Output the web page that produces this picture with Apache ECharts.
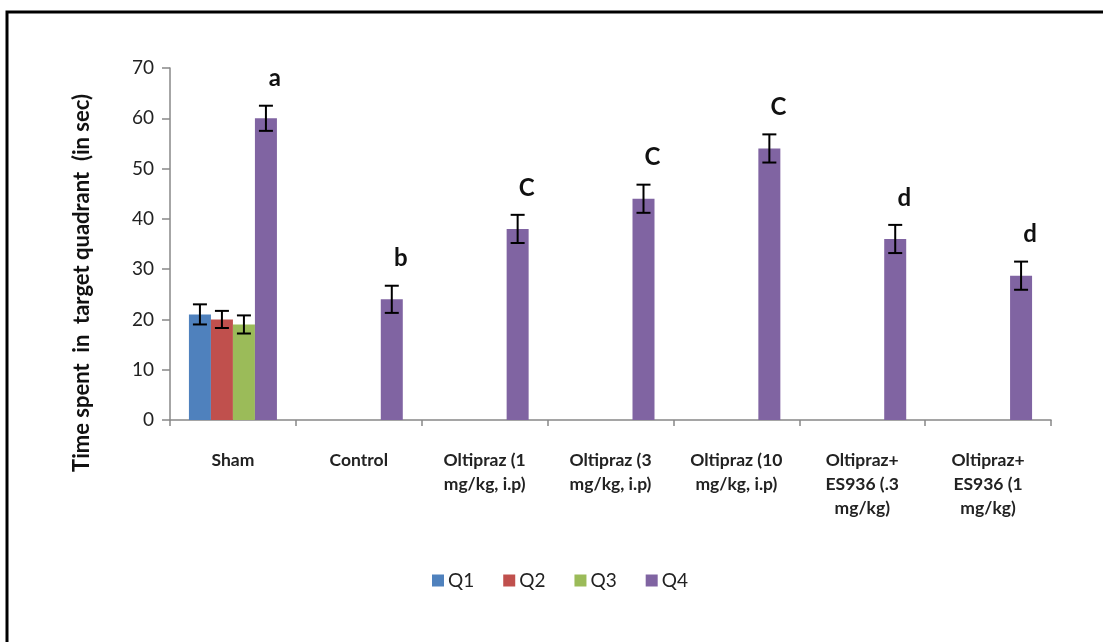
<!DOCTYPE html>
<html>
<head>
<meta charset="utf-8">
<script src="https://cdn.jsdelivr.net/npm/echarts@6/dist/echarts.min.js"></script>
<style>
  html, body { margin: 0; padding: 0; background: #fff; }
  #chart { width: 1103px; height: 642px; }
</style>
</head>
<body>
<div id="chart"></div>
<script>
// Treatment groups on the x axis
const categories = [
  'Sham', 'Control', 'Oltipraz (1\nmg/kg, i.p)', 'Oltipraz (3\nmg/kg, i.p)',
  'Oltipraz (10\nmg/kg, i.p)', 'Oltipraz+\nES936 (.3\nmg/kg)', 'Oltipraz+\nES936 (1\nmg/kg)'
];
const yTicks = [0, 10, 20, 30, 40, 50, 60, 70];

// Mean time per quadrant (sec); only Sham has Q1–Q3 values
const q1 = [21, null, null, null, null, null, null];
const q2 = [20, null, null, null, null, null, null];
const q3 = [19, null, null, null, null, null, null];
const q4 = [60, 24, 38, 44, 54, 36, 28.7];

// Error (SEM) for each bar
const q1Err = [2, null, null, null, null, null, null];
const q2Err = [1.7, null, null, null, null, null, null];
const q3Err = [1.8, null, null, null, null, null, null];
const q4Err = [2.5, 2.7, 2.8, 2.8, 2.8, 2.8, 2.8];

// Significance letters above the Q4 bars
const sigLetters = ['a', 'b', 'C', 'C', 'C', 'd', 'd'];

const seriesNames = ['Q1', 'Q2', 'Q3', 'Q4'];
const colors = ['#4F81BD', '#C0504D', '#9BBB59', '#8064A2'];
const values = [q1, q2, q3, q4];
const errors = [q1Err, q2Err, q3Err, q4Err];

const BAR_W = 22;
const FONT = 'Lato, "Open Sans", sans-serif';

// Flattened error-bar records: [categoryIndex, seriesIndex, mean, err]
const errData = [];
values.forEach((arr, s) => {
  arr.forEach((v, i) => {
    if (v != null && errors[s][i] != null) errData.push([i, s, v, errors[s][i]]);
  });
});
const letterData = q4.map((v, i) => [i, v, q4Err[i], sigLetters[i]]);

const chart = echarts.init(document.getElementById('chart'), null, { renderer: 'canvas' });

const barSeries = seriesNames.map((name, s) => ({
  name: name,
  type: 'bar',
  data: values[s],
  barWidth: BAR_W,
  barGap: '0%',
  itemStyle: { color: colors[s] },
  emphasis: { disabled: true }
}));

chart.setOption({
  animation: false,
  backgroundColor: '#fff',
  color: colors,
  grid: { left: 170, right: 52, top: 68, bottom: 222, containLabel: false },
  legend: {
    data: seriesNames,
    left: 427,
    top: 566,
    itemWidth: 12,
    itemHeight: 12,
    itemGap: 29,
    icon: 'rect',
    textStyle: { fontFamily: FONT, fontSize: 19, color: '#222', padding: [0, 0, 0, -1] }
  },
  xAxis: {
    type: 'category',
    data: categories,
    axisLine: { lineStyle: { color: '#888', width: 1.5 } },
    axisTick: { show: true, length: 6, lineStyle: { color: '#888', width: 1.5 } },
    axisLabel: {
      interval: 0,
      margin: 28,
      fontFamily: FONT,
      fontWeight: 'bold',
      fontSize: 17.5,
      lineHeight: 24,
      color: '#222'
    }
  },
  yAxis: {
    type: 'value',
    min: 0,
    max: 70,
    interval: 10,
    axisLine: { show: true, lineStyle: { color: '#888', width: 1.5 } },
    axisTick: { show: true, inside: false, length: 8, lineStyle: { color: '#888', width: 1.5 } },
    splitLine: { show: false },
    axisLabel: {
      margin: 16,
      fontFamily: FONT,
      fontSize: 19,
      color: '#222',
      formatter: v => (yTicks.includes(v) ? String(v) : '')
    }
  },
  graphic: [
    {
      type: 'rect',
      shape: { x: 7, y: 12, width: 1120, height: 700 },
      style: { fill: null, stroke: '#000', lineWidth: 3 },
      silent: true
    },
    {
      type: 'text',
      x: 82,
      y: 283,
      rotation: Math.PI / 2,
      style: {
        text: 'Time spent  in  target quadrant  (in sec)',
        font: 'bold 22px ' + FONT,
        fill: '#111',
        align: 'center',
        verticalAlign: 'middle'
      },
      silent: true
    }
  ],
  series: barSeries.concat([
    {
      name: 'err',
      type: 'custom',
      data: errData,
      z: 10,
      silent: true,
      renderItem: function (params, api) {
        const cat = api.value(0);
        const s = api.value(1);
        const mean = api.value(2);
        const err = api.value(3);
        const xc = api.coord([cat, 0])[0] + (s - 1.5) * BAR_W;
        const yHi = api.coord([cat, mean + err])[1];
        const yLo = api.coord([cat, mean - err])[1];
        const cap = 7;
        const style = { stroke: '#000', lineWidth: 2 };
        return {
          type: 'group',
          children: [
            { type: 'line', shape: { x1: xc, y1: yHi, x2: xc, y2: yLo }, style: style },
            { type: 'line', shape: { x1: xc - cap, y1: yHi, x2: xc + cap, y2: yHi }, style: style },
            { type: 'line', shape: { x1: xc - cap, y1: yLo, x2: xc + cap, y2: yLo }, style: style }
          ]
        };
      }
    },
    {
      name: 'letters',
      type: 'custom',
      data: letterData,
      z: 10,
      silent: true,
      renderItem: function (params, api) {
        const cat = api.value(0);
        const mean = api.value(1);
        const err = api.value(2);
        const p = api.coord([cat, mean + err]);
        const xc = p[0] + 1.5 * BAR_W + 9;
        return {
          type: 'text',
          x: xc,
          y: p[1] - 27,
          style: {
            text: letterData[params.dataIndex][3],
            font: 'bold 24px ' + FONT,
            fill: '#111',
            align: 'center',
            verticalAlign: 'middle'
          }
        };
      }
    }
  ])
});
</script>
</body>
</html>
